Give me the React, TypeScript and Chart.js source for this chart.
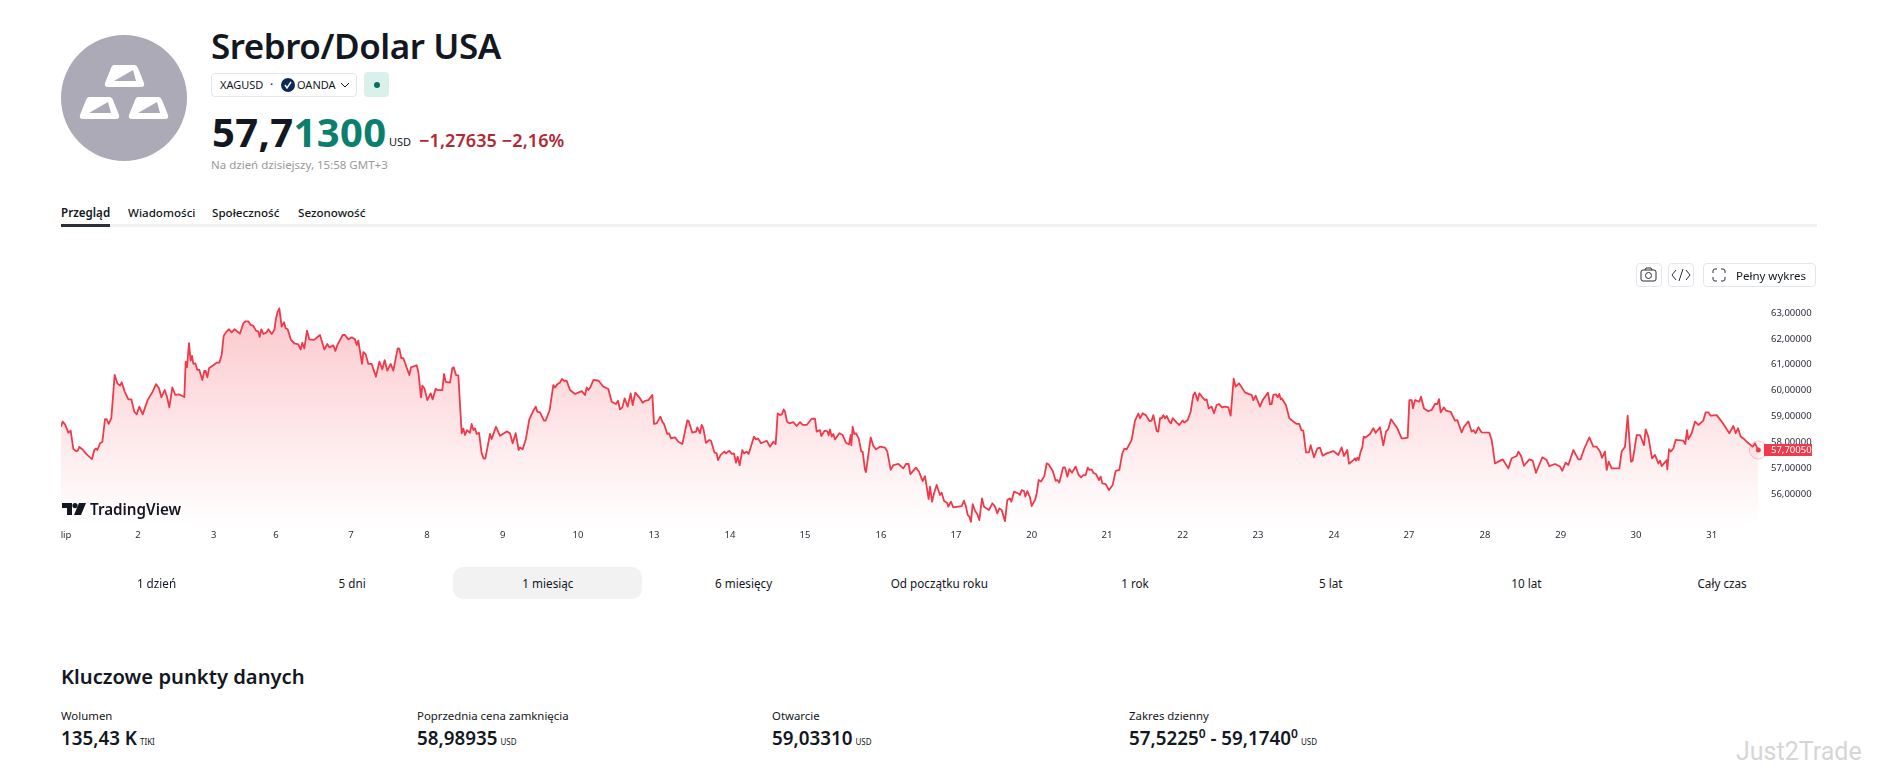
import React, { useEffect, useRef } from "react";
import { Chart, registerables } from "chart.js";

Chart.register(...registerables);

// Time is counted in six-minute market steps since the first bar of the month.
const stepsWeek1 = [0,5,12,22,29,37,45,50,55,64,77,93,100,105,109,117,124,132,137,143,151,161,169,177,182,191,202,211,220,227,235,245,260,275,285,294,301,311,318,325,334,343,355,370,374,378,384,389,393,397,403,409,415,424,430,434,439,444,457,467,475,482,488,497,504,512,520,537,547,554,562,569,577,585,592,596,601,607,617,622,632,640,645,650,655,662,669,674,680,690,700,712,719,724,730,738,745,759,777,790,799,805,817,823,829,845,852,862,872,882,887,892,903,907,914,922,932,945,955,964,971,979,989,997,1010,1015,1021,1027,1045,1050,1067,1072,1080,1084,1090,1099,1109,1115,1124,1129,1144,1149,1154,1167,1174,1178,1185,1192,1202,1207,1212,1218,1227,1232,1237,1242,1247,1254,1262,1268,1273,1287,1292,1305,1317];
const pricesWeek1 = [58.60,58.80,58.69,58.37,58.45,57.74,57.66,57.67,57.82,57.73,57.53,57.35,57.70,57.76,57.70,57.96,58.01,58.89,58.89,58.71,58.93,60.61,60.28,60.19,60.32,59.96,59.66,59.66,59.18,59.08,59.38,59.08,59.63,59.96,60.25,60.09,59.74,60.02,59.76,59.35,60.12,59.83,59.85,59.75,61.12,60.90,61.83,61.16,61.34,61.03,61.05,60.80,60.80,60.41,60.76,60.76,60.51,60.86,60.98,61.08,61.08,61.38,62.11,62.29,62.37,62.25,62.37,62.21,62.60,62.68,62.68,62.54,62.50,62.32,62.28,62.08,62.37,62.19,62.25,62.37,62.19,62.34,62.79,63.05,63.18,62.47,62.64,62.41,62.37,61.96,61.83,61.79,61.59,61.85,61.63,62.32,61.98,61.96,62.15,61.59,61.80,61.67,61.75,61.53,61.76,62.15,62.15,61.98,62.06,61.98,61.76,61.93,61.03,61.49,61.41,61.03,61.03,60.54,61.12,60.82,61.18,60.77,61.03,60.77,61.63,61.62,61.25,61.25,60.60,60.90,60.98,60.73,59.74,60.19,60.09,59.63,59.89,59.66,60.07,60.02,60.02,60.64,60.34,60.31,60.86,60.90,60.60,60.59,58.35,58.53,58.28,58.47,58.37,58.71,58.47,58.54,58.32,58.37,57.57,57.37,57.38,58.32,58.13,58.60,58.25];

const stepsWeek2 = [1337,1347,1355,1364,1373,1377,1385,1395,1405,1417,1424,1429,1437,1449,1454,1466,1477,1482,1489,1497,1503,1509,1517,1527,1542,1552,1562,1572,1577,1582,1589,1597,1613,1627,1642,1652,1665,1671,1677,1684,1691,1700,1709,1715,1723,1737,1745,1752,1762,1774,1779,1787,1798,1805,1809,1819,1824,1830,1842,1852,1864,1879,1883,1894,1905,1909,1917,1922,1927,1935,1945,1950,1960,1967,1971,1979,1990,1995,2005,2012,2019,2025,2030,2036,2044,2049,2057,2063,2079,2085,2091,2100,2117,2127,2137,2144,2150,2157,2163,2168,2172,2178,2185,2197,2207,2217,2225,2237,2252,2262,2267,2277,2281,2291,2299,2303,2307,2312,2317,2322,2335,2345,2355,2364,2369,2371,2375,2380,2385,2393,2401,2405,2412,2415,2429,2437,2445,2457,2472,2479,2489,2497,2512,2527,2535,2543,2548,2565,2574,2585,2592,2603,2607,2613,2619,2627,2637];
const pricesWeek2 = [58.42,58.35,57.96,58.35,57.70,57.80,57.73,58.15,58.89,59.22,59.38,59.18,59.16,58.84,58.84,59.25,60.21,60.12,60.24,60.31,60.45,60.38,60.38,60.02,59.87,59.92,59.98,59.83,60.12,60.02,60.15,60.41,60.38,60.15,60.06,59.57,59.48,59.61,59.27,59.35,59.70,59.38,59.89,59.44,59.92,59.70,59.53,59.60,59.63,59.83,58.71,58.73,58.99,58.77,58.71,58.32,58.35,58.15,58.19,58.02,57.93,58.85,58.82,58.37,58.41,58.58,58.35,58.67,58.54,57.98,58.09,58.06,57.61,57.57,57.31,57.51,57.64,57.57,57.67,57.55,57.57,57.21,57.44,57.11,57.70,57.57,57.64,57.55,58.22,58.11,58.15,57.96,58.06,57.83,58.02,57.93,59.12,59.05,59.09,59.27,59.18,58.80,58.73,58.78,58.63,58.78,58.67,58.67,58.91,58.91,58.41,58.47,58.24,58.45,58.42,58.27,58.50,58.22,58.32,58.11,58.35,58.28,57.98,57.92,58.28,57.88,58.60,58.32,58.35,58.15,57.64,57.64,56.93,56.85,58.19,57.86,57.73,57.83,57.79,57.64,56.93,57.12,57.16,56.99,57.16,57.16,56.77,57.02,56.86,56.50,56.69,55.80,56.28,55.70,56.02,56.35,55.96];

const stepsWeek3 = [2642,2649,2659,2662,2670,2677,2702,2709,2715,2720,2725,2730,2735,2742,2749,2755,2763,2769,2784,2794,2802,2809,2815,2822,2832,2839,2847,2851,2859,2872,2877,2882,2889,2893,2899,2907,2912,2922,2927,2933,2940,2950,2957,2962,2975,2984,2989,2995,3006,3012,3019,3025,3033,3044,3052,3060,3067,3074,3080,3085,3092,3097,3105,3114,3119,3124,3134,3144,3155,3164,3175,3184,3190,3197,3212,3222,3232,3237,3245,3255,3265,3272,3277,3287,3292,3297,3302,3307,3312,3317,3325,3330,3335,3347,3355,3365,3370,3380,3389,3397,3402,3410,3415,3425,3432,3437,3443,3452,3459,3467,3474,3483,3492,3502,3509,3518,3524,3534,3552,3562,3572,3577,3584,3597,3605,3621,3627,3632,3637,3645,3650,3655,3659,3662,3675,3685,3697,3707,3715,3721,3727,3735,3744,3749,3759,3769,3777,3785,3797,3817,3832,3842,3849,3859,3864,3877,3882,3885,3889,3893,3899,3904,3908,3913,3927,3937,3944,3957];
const pricesWeek3 = [56.05,55.74,55.64,55.51,55.70,55.48,55.53,55.74,55.51,55.19,55.12,54.92,55.61,55.35,55.22,54.99,55.83,55.51,55.38,55.64,55.51,55.25,55.44,55.38,54.95,55.77,55.83,55.70,56.09,56.02,55.96,56.15,56.11,55.90,56.11,55.87,55.53,55.77,56.02,56.54,56.48,56.69,57.18,57.16,56.90,56.51,56.54,56.44,57.02,57.03,56.67,56.96,56.82,57.06,56.76,56.64,56.73,56.73,57.02,56.93,56.95,56.82,56.77,56.54,56.67,56.41,56.38,56.15,56.35,56.89,56.93,57.57,57.75,57.73,58.09,58.84,59.11,58.93,59.12,59.04,58.82,58.84,59.05,58.44,58.41,58.93,58.93,59.05,58.93,59.02,58.80,58.73,58.93,58.76,58.67,58.84,58.76,58.86,59.18,59.83,59.93,59.61,59.89,59.73,59.63,59.66,59.31,59.38,59.12,59.44,59.48,59.35,59.38,59.35,59.03,60.46,60.15,60.28,59.93,59.87,59.83,59.63,59.80,59.38,59.63,59.92,59.47,59.48,59.83,59.85,59.74,59.87,59.66,59.70,59.43,58.93,58.80,58.71,58.71,58.47,58.45,57.61,57.61,57.89,57.42,57.76,57.79,57.48,57.57,57.66,57.51,57.80,57.47,57.70,57.17,57.31,57.38,57.29,57.40,57.31,57.64,57.80,58.22,58.18,58.32,58.54,58.37,58.58];

const stepsWeek4 = [3967,3975,3982,3990,4002,4009,4022,4027,4040,4045,4052,4056,4062,4075,4080,4089,4102,4112,4122,4129,4134,4139,4149,4155,4169,4182,4189,4202,4209,4222,4232,4237,4244,4252,4262,4285,4292,4302,4312,4325,4342,4352,4367,4372,4380,4389,4405,4415,4425,4444,4457,4465,4482,4497,4504,4514,4522,4537,4552,4559,4569,4585,4597,4607,4617,4623,4632,4637,4643,4652,4675,4682,4692,4700,4710,4715,4727,4737,4749,4754,4762,4773,4782,4792,4797,4802,4817,4819,4824,4829,4837,4844,4867,4873,4878,4882,4892,4902,4912,4927,4934,4942,4949,4967,4982,5005,5017,5024,5031,5039,5049,5057,5075,5082,5092];
const pricesWeek4 = [57.88,58.41,58.51,58.89,58.67,58.54,58.15,58.15,58.18,59.63,59.63,59.31,59.63,59.57,59.76,59.31,59.20,59.25,59.48,59.48,59.67,59.16,59.35,59.22,59.18,58.84,58.86,58.38,58.60,58.81,58.41,58.47,58.35,58.58,58.38,58.37,58.09,57.18,57.25,57.34,56.99,57.38,57.47,57.64,57.48,57.09,57.34,57.29,56.82,57.42,57.31,57.08,57.16,57.06,56.90,57.21,57.12,57.70,57.34,57.34,57.73,58.19,57.83,57.83,57.64,57.40,57.64,56.93,57.25,56.99,56.99,57.64,57.83,59.03,57.25,57.29,58.28,58.28,57.89,58.50,58.22,57.38,57.51,57.18,57.29,57.08,57.31,56.95,57.73,57.64,57.76,58.09,58.06,57.93,58.47,58.11,58.35,58.80,58.67,58.84,59.16,59.16,59.03,59.05,58.80,58.35,58.63,58.35,58.54,58.22,58.13,58.02,57.83,57.96,57.70];

const dayLabels = ["lip","2","3","6","7","8","9","10","13","14","15","16","17","20","21","22","23","24","27","28","29","30","31"];
const dayStarts = [15,231,458,645,870,1098,1325,1551,1779,2007,2232,2460,2685,2912,3138,3365,3591,3819,4044,4272,4499,4725,4952];
const priceTicks = [56,57,58,59,60,61,62,63];
const lastPrice = 57.7005;

const rangeTabs = ["1 dzień","5 dni","1 miesiąc","6 miesięcy","Od początku roku","1 rok","5 lat","10 lat","Cały czas"];
const keyPoints = [
  { label: "Wolumen", value: "135,43 K", unit: "TIKI", left: 61 },
  { label: "Poprzednia cena zamknięcia", value: "58,98935", unit: "USD", left: 417 },
  { label: "Otwarcie", value: "59,03310", unit: "USD", left: 772 },
];

const FONT = '"Noto Sans", sans-serif';
const fmt = (v: number) => v.toFixed(5).replace(".", ",");

function T({ x, cy, size, weight = 400, color = "#131722", children, center = false, spacing = 0, font = FONT }: any) {
  const lh = Math.ceil(size * 1.4);
  return (
    <div style={{
      position: "absolute", left: x, top: cy - lh / 2, lineHeight: lh + "px", fontSize: size, fontWeight: weight,
      color, fontFamily: font, whiteSpace: "nowrap", letterSpacing: spacing,
      transform: center ? "translateX(-50%)" : undefined,
    }}>{children}</div>
  );
}

const Bar = ({ x, y }: { x: number; y: number }) => (
  <g transform={`translate(${x} ${y})`}>
    <path d="M10 2 H30 Q33 2 34 5 L40 20 Q41 24 37 24 H4 Q0 24 1 20 L7 5 Q8 2 10 2 Z" fill="#fff" />
    <path d="M10 18 L29 7 L32 18 Z" fill="#ABAAB6" />
  </g>
);

export default function App() {
  const ref = useRef<HTMLCanvasElement>(null);

  useEffect(() => {
    const steps = [...stepsWeek1, ...stepsWeek2, ...stepsWeek3, ...stepsWeek4];
    const prices = [...pricesWeek1, ...pricesWeek2, ...pricesWeek3, ...pricesWeek4];
    const points = steps.map((s, i) => ({ x: s, y: prices[i] }));

    const lastMarker = {
      id: "lastMarker",
      afterDraw(chart: any) {
        const { ctx, scales, chartArea } = chart;
        const px = scales.x.getPixelForValue(steps[steps.length - 1]);
        const py = scales.y.getPixelForValue(prices[prices.length - 1]);
        ctx.save();
        ctx.beginPath();
        ctx.arc(px, py, 9, 0, Math.PI * 2);
        ctx.fillStyle = "rgba(242,54,69,0.06)";
        ctx.fill();
        ctx.strokeStyle = "rgba(242,54,69,0.25)";
        ctx.lineWidth = 1;
        ctx.stroke();
        ctx.beginPath();
        ctx.arc(px, py, 2.5, 0, Math.PI * 2);
        ctx.fillStyle = "#EF3A4B";
        ctx.fill();
        const ly = scales.y.getPixelForValue(lastPrice);
        ctx.fillStyle = "#EF3A4B";
        ctx.fillRect(chartArea.right, ly - 6, 48, 12);
        ctx.fillStyle = "#fff";
        ctx.font = "9.5px " + FONT;
        ctx.textAlign = "left";
        ctx.textBaseline = "middle";
        ctx.fillText(fmt(lastPrice), chartArea.right + 7, ly + 0.5);
        ctx.restore();
      },
    };

    const chart = new Chart(ref.current as HTMLCanvasElement, {
      type: "line",
      data: {
        datasets: [{
          data: points,
          borderColor: "#EF3A4B",
          borderWidth: 1.8,
          borderJoinStyle: "round",
          pointRadius: 0,
          tension: 0,
          fill: "start",
          backgroundColor: (c: any) => {
            const area = c.chart.chartArea;
            if (!area) return "rgba(242,54,69,0.1)";
            const g = c.chart.ctx.createLinearGradient(0, area.top + 15, 0, area.bottom);
            g.addColorStop(0, "rgba(242,54,69,0.28)");
            g.addColorStop(1, "rgba(242,54,69,0)");
            return g;
          },
        }],
      },
      options: {
        animation: false,
        responsive: false,
        devicePixelRatio: 1,
        layout: { padding: { left: 61, top: 20, right: 0, bottom: 0 } },
        plugins: { legend: { display: false }, tooltip: { enabled: false } },
        scales: {
          x: {
            type: "linear",
            min: 0,
            max: 5109,
            grid: { display: false, drawTicks: false },
            border: { display: false },
            afterFit: (s: any) => { s.height = 35; },
            afterBuildTicks: (s: any) => { s.ticks = dayStarts.map((v) => ({ value: v })); },
            ticks: {
              autoSkip: false,
              maxRotation: 0,
              padding: 5,
              color: "#2a2e39",
              font: { size: 9.5, family: FONT },
              callback: (v: any) => dayLabels[dayStarts.indexOf(Number(v))] ?? "",
            },
          },
          y: {
            type: "linear",
            position: "right",
            min: 54.8,
            max: 63.89,
            grid: { display: false, drawTicks: false },
            border: { display: false },
            afterFit: (s: any) => { s.width = 116; },
            afterBuildTicks: (s: any) => { s.ticks = priceTicks.map((v) => ({ value: v })); },
            ticks: {
              padding: 7,
              crossAlign: "near",
              color: "#2a2e39",
              font: { size: 9.5, family: FONT },
              callback: (v: any) => fmt(Number(v)),
            },
          },
        },
      },
      plugins: [lastMarker],
    } as any);
    return () => chart.destroy();
  }, []);

  return (
    <div style={{ position: "absolute", left: 0, top: 0, width: 1880, height: 778, overflow: "hidden", background: "#fff" }}>
      {/* header */}
      <svg style={{ position: "absolute", left: 61, top: 35 }} width={126} height={126} viewBox="0 0 126 126">
        <circle cx={63} cy={63} r={63} fill="#ABAAB6" />
        <Bar x={43} y={28} />
        <Bar x={18} y={60} />
        <Bar x={67} y={60} />
      </svg>
      <T x={211} cy={45} size={35} weight={600} spacing={-0.45}>Srebro/Dolar USA</T>
      <div style={{ position: "absolute", left: 211, top: 73, width: 146, height: 24, boxSizing: "border-box", border: "1px solid #e4e6ec", borderRadius: 4 }} />
      <T x={220} cy={85} size={11}>XAGUSD</T>
      <T x={270} cy={84} size={12}>·</T>
      <svg style={{ position: "absolute", left: 281, top: 78 }} width={14} height={14}>
        <circle cx={7} cy={7} r={7} fill="#0d2b52" />
        <path d="M4 7 L6 10 L10 4" stroke="#fff" strokeWidth={1.4} fill="none" />
      </svg>
      <T x={297} cy={85} size={11}>OANDA</T>
      <svg style={{ position: "absolute", left: 340, top: 81 }} width={10} height={8}>
        <path d="M1 2 L5 6 L9 2" stroke="#131722" strokeWidth={1} fill="none" />
      </svg>
      <div style={{ position: "absolute", left: 364, top: 72, width: 25, height: 25, background: "#DAF0EB", borderRadius: 4 }} />
      <div style={{ position: "absolute", left: 373.5, top: 81.5, width: 6, height: 6, background: "#0B6E5E", borderRadius: 3 }} />
      <T x={212} cy={132} size={40} weight={700} spacing={0.35}>
        57,7<span style={{ color: "#0A7F6E" }}>1300</span>
      </T>
      <T x={389} cy={142} size={11}>USD</T>
      <T x={419} cy={140} size={18} weight={600} color="#B22833" spacing={0.1}>−1,27635 −2,16%</T>
      <T x={211} cy={164} size={11.5} color="#9a9a9a">Na dzień dzisiejszy, 15:58 GMT+3</T>
      <T x={61} cy={212} size={11.6} weight={600}>Przegląd</T>
      <T x={128} cy={212} size={11.6} weight={500}>Wiadomości</T>
      <T x={212} cy={212} size={11.6} weight={500}>Społeczność</T>
      <T x={298} cy={212} size={11.6} weight={500}>Sezonowość</T>
      <div style={{ position: "absolute", left: 61, top: 224, width: 1756, height: 3, background: "#F0F1F3" }} />
      <div style={{ position: "absolute", left: 61, top: 224, width: 49, height: 3, background: "#2a2e39" }} />

      {/* chart */}
      <canvas ref={ref} width={1880} height={290} style={{ position: "absolute", left: 0, top: 270, width: 1880, height: 290 }} />

      {/* chart buttons */}
      {[[1636, 26], [1668, 26], [1703, 113]].map(([l, w]) => (
        <div key={l} style={{ position: "absolute", left: l, top: 263, width: w, height: 24, boxSizing: "border-box", border: "1px solid #e4e6ec", borderRadius: 4 }} />
      ))}
      <svg style={{ position: "absolute", left: 1640, top: 267 }} width={18} height={16} viewBox="0 0 18 16">
        <rect x={1} y={3} width={15} height={11} rx={2} stroke="#2a2e39" fill="none" />
        <circle cx={8.5} cy={8.5} r={3} stroke="#2a2e39" fill="none" />
        <path d="M5 3 L6 1 H11 L12 3" stroke="#2a2e39" fill="none" />
      </svg>
      <svg style={{ position: "absolute", left: 1671, top: 268 }} width={20} height={14}>
        <path d="M5 2 L1 7 L5 12 M15 2 L19 7 L15 12 M12 1 L8 13" stroke="#2a2e39" fill="none" />
      </svg>
      <svg style={{ position: "absolute", left: 1712, top: 268 }} width={14} height={14}>
        <path d="M1 5 V3 Q1 1 3 1 H5 M9 1 H11 Q13 1 13 3 V5 M13 9 V11 Q13 13 11 13 H9 M5 13 H3 Q1 13 1 11 V9" stroke="#2a2e39" fill="none" />
      </svg>
      <T x={1736} cy={275.5} size={11.5} weight={400}>Pełny wykres</T>

      {/* logo */}
      <svg style={{ position: "absolute", left: 62, top: 503 }} width={24} height={12} viewBox="0 0 24 12">
        <path d="M0 0 H10 V12 H5 V5 H0 Z" fill="#131722" />
        <circle cx={13} cy={2.6} r={2.6} fill="#131722" />
        <path d="M17 0 H24 L19 12 H12 Z" fill="#131722" />
      </svg>
      <T x={90} cy={509} size={15.2} weight={600}>TradingView</T>

      {/* range tabs */}
      <div style={{ position: "absolute", left: 452.5, top: 567, width: 189, height: 32, background: "#F2F2F2", borderRadius: 10 }} />
      {rangeTabs.map((t, i) => (
        <T key={t} x={156.5 + i * 195.7} cy={583} size={11.7} center>{t}</T>
      ))}

      {/* key data */}
      <T x={61} cy={676} size={20.2} weight={600}>Kluczowe punkty danych</T>
      {keyPoints.map((k) => (
        <React.Fragment key={k.label}>
          <T x={k.left} cy={716} size={11.4}>{k.label}</T>
          <T x={k.left} cy={738} size={18.8} weight={600}>
            {k.value}<span style={{ fontSize: 8, fontWeight: 400, marginLeft: 3 }}>{k.unit}</span>
          </T>
        </React.Fragment>
      ))}
      <T x={1129} cy={716} size={11.4}>Zakres dzienny</T>
      <T x={1129} cy={738} size={18.8} weight={600}>
        57,5225<sup style={{ fontSize: 12, lineHeight: 0 }}>0</sup> - 59,1740<sup style={{ fontSize: 12, lineHeight: 0 }}>0</sup>
        <span style={{ fontSize: 8, fontWeight: 400, marginLeft: 3 }}>USD</span>
      </T>
      <T x={1736} cy={751} size={25} color="#d6d6d6" font='Roboto, sans-serif'>Just2Trade</T>
    </div>
  );
}
